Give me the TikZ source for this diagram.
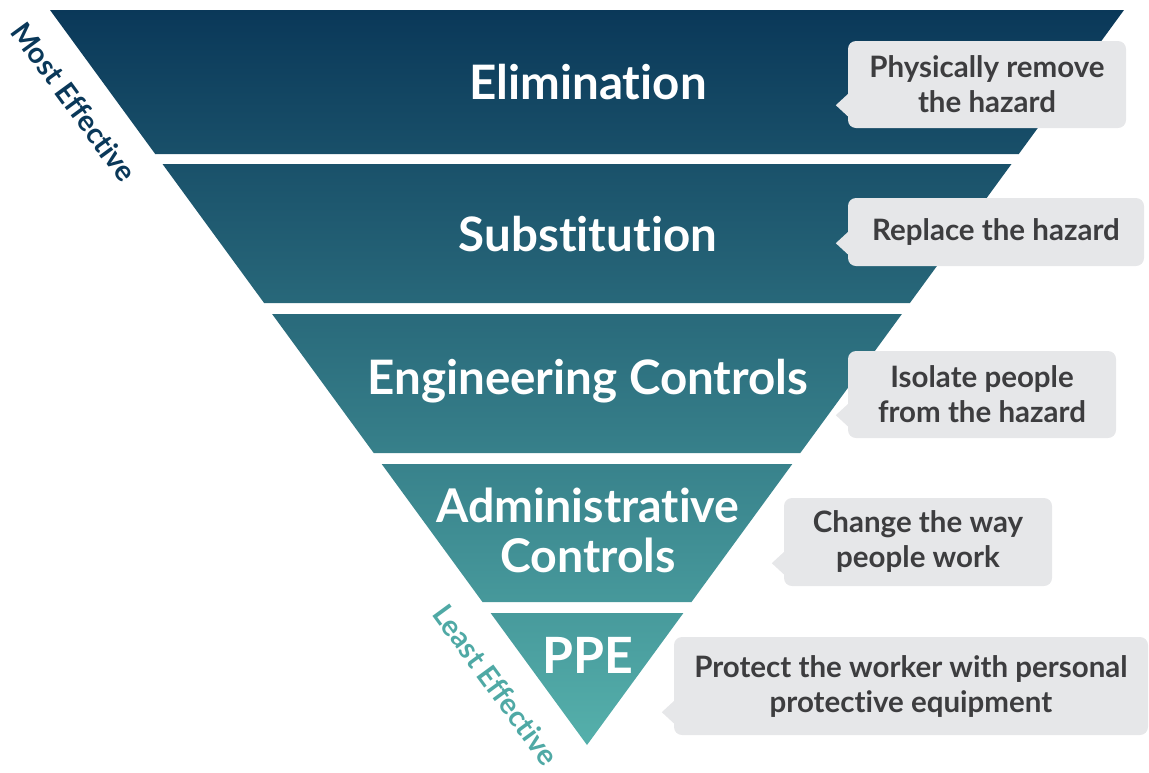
\documentclass[tikz,border=0pt]{standalone}
\usepackage{fontspec}
\setmainfont{Lato}[Ligatures={NoCommon}]
\usetikzlibrary{calc}
\definecolor{navy}{HTML}{0A3859}
\definecolor{tealmid}{HTML}{246B7E}
\definecolor{tealend}{HTML}{55B0AB}
\definecolor{calloutgray}{HTML}{E6E7E9}
\definecolor{callouttext}{HTML}{3D3D3F}
\definecolor{leastcol}{HTML}{4FA9A5}
\tikzset{
  bandlabel/.style={text=white, font=\fontsize{47.5}{50}\selectfont\bfseries, align=center, inner sep=0pt},
  callout/.style={fill=calloutgray, rounded corners=8pt, inner sep=0pt, align=center,
     text=callouttext, font=\fontsize{29.5}{35}\selectfont\bfseries},
  pointer/.style={fill=calloutgray},
  sidelabel/.style={font=\fontsize{29}{30}\selectfont\bfseries, rotate=-53.8, inner sep=0pt}
}
\begin{document}
\begin{tikzpicture}[x=1pt,y=-1pt]
\useasboundingbox (0,0) rectangle (1149,772);
% bands with one continuous gradient
\begin{scope}
\clip (50,10) -- (1124,10) -- (1018.8,154) -- (155.2,154) -- cycle
      (162.5,164) -- (1011.5,164) -- (909.9,303) -- (264.1,303) -- cycle
      (272.1,314) -- (901.9,314) -- (800.3,453) -- (373.7,453) -- cycle
      (381.7,464) -- (792.3,464) -- (691.5,602) -- (482.5,602) -- cycle
      (490.6,613) -- (683.4,613) -- (587,745) -- cycle;
\shade[top color=navy, middle color=tealmid, bottom color=tealend] (40,10) rectangle (1134,745);
\end{scope}
% band labels
\node[bandlabel] (elim) at (588,82) {Elimination};
\node[bandlabel] (subs) at (588,234) {Substitution};
\node[bandlabel] (eng) at (588,381) {Engineering Controls};
\node[bandlabel, font=\fontsize{46.5}{50}\selectfont\bfseries] (adm) at (588,530) {Administrative\\Controls};
\node[bandlabel, font=\fontsize{50}{55}\selectfont\bfseries] (ppe) at (588,655) {PPE};
% side labels
\node[sidelabel, text=navy] (most) at (74,102) {Most Effective};
\node[sidelabel, text=leastcol] (least) at (496,685) {Least Effective};
% callouts
\node[callout, minimum width=278pt, minimum height=87pt] (c1) at (987,84.5) {Physically remove\\the hazard};
\node[callout, minimum width=296pt, minimum height=68pt] (c2) at (996,232) {Replace the hazard};
\node[callout, minimum width=268pt, minimum height=87pt] (c3) at (982,394.5) {Isolate people\\from the hazard};
\node[callout, minimum width=268pt, minimum height=88pt] (c4) at (918,542) {Change the way\\people work};
\node[callout, minimum width=474pt, minimum height=98pt] (c5) at (911,686) {Protect the worker with personal\\protective equipment};
% pointers
\foreach \c in {c1,c2,c3,c4,c5}{
  \fill[pointer] ($(\c.south west)+(1,-11)$) -- ($(\c.south west)+(-12,-23)$) -- ($(\c.south west)+(1,-35)$) -- cycle;
}
\end{tikzpicture}
\end{document}
